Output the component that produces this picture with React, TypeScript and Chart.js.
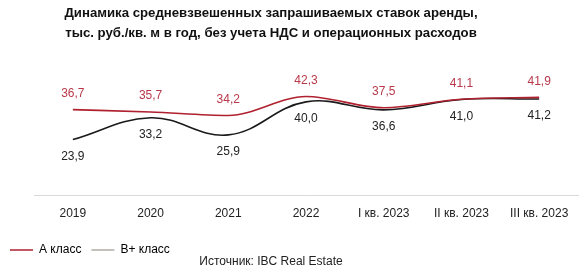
import React, { useEffect, useRef } from "react";
import { Chart, registerables } from "chart.js";

Chart.register(...registerables);

const categories = ["2019", "2020", "2021", "2022", "I кв. 2023", "II кв. 2023", "III кв. 2023"];
const classA = [36.7, 35.7, 34.2, 42.3, 37.5, 41.1, 41.9];
const classBPlus = [23.9, 33.2, 25.9, 40.0, 36.6, 41.0, 41.2];
const seriesNames = ["А класс", "В+ класс"];
const titleLines = [
  "Динамика средневзвешенных запрашиваемых ставок аренды,",
  "тыс. руб./кв. м в год, без учета НДС и операционных расходов",
];
const sourceText = "Источник: IBC Real Estate";

const RED = "#B0202E";
const RED_LABEL = "#B8394A";
const BLACK = "#1a1a1a";
const LEGEND_GRAY = "#b0aca4";
const FONT = "'Liberation Sans', Arial, sans-serif";

const fmt = (v: number) => v.toFixed(1).replace(".", ",");

const extrasPlugin = {
  id: "extras",
  afterDatasetsDraw(chart: any) {
    const ctx = chart.ctx;
    ctx.save();
    ctx.font = `12px ${FONT}`;
    ctx.textAlign = "center";
    ctx.textBaseline = "middle";
    chart.data.datasets.forEach((ds: any, i: number) => {
      const meta = chart.getDatasetMeta(i);
      meta.data.forEach((pt: any, j: number) => {
        const v = ds.data[j];
        ctx.fillStyle = i === 0 ? RED_LABEL : "#222";
        const dy = i === 0 ? -16 : 17;
        ctx.fillText(fmt(v), pt.x, pt.y + dy);
      });
    });
    const cx = 271;
    ctx.fillStyle = "#111";
    ctx.font = `bold 13.2px ${FONT}`;
    ctx.fillText(titleLines[0], cx, 13);
    ctx.fillText(titleLines[1], cx, 33);
    ctx.font = `12px ${FONT}`;
    ctx.fillStyle = "#222";
    ctx.fillText(sourceText, cx, 262);
    ctx.restore();
  },
};

export default function App() {
  const ref = useRef<HTMLCanvasElement | null>(null);
  useEffect(() => {
    if (!ref.current) return;
    const chart = new Chart(ref.current, {
      type: "line",
      data: {
        labels: categories,
        datasets: [
          {
            label: seriesNames[0],
            data: classA,
            borderColor: RED,
            borderWidth: 1.6,
            pointRadius: 0,
            tension: 0.4,
            cubicInterpolationMode: "monotone",
          },
          {
            label: seriesNames[1],
            data: classBPlus,
            borderColor: BLACK,
            borderWidth: 1.6,
            pointRadius: 0,
            tension: 0.4,
          },
        ],
      },
      options: {
        responsive: false,
        animation: false,
        layout: { padding: { top: 55, left: 0, right: 10, bottom: 10 } },
        plugins: {
          title: { display: false },
          tooltip: { enabled: false },
          legend: {
            display: true,
            position: "bottom",
            align: "start",
            labels: {
              boxWidth: 23,
              boxHeight: 1.5,
              padding: 10,
              color: "#222",
              font: { family: FONT, size: 12 },
              generateLabels: () => [
                { text: seriesNames[0], fillStyle: RED, strokeStyle: RED, lineWidth: 0, datasetIndex: 0 },
                { text: seriesNames[1], fillStyle: LEGEND_GRAY, strokeStyle: LEGEND_GRAY, lineWidth: 0, datasetIndex: 1 },
              ],
            },
          },
        },
        scales: {
          x: {
            offset: true,
            grid: { display: false, drawTicks: false },
            border: { display: true, color: "#d9d9d9", width: 1 },
            ticks: { color: "#222", font: { family: FONT, size: 12 }, padding: 11, maxRotation: 0, autoSkip: false },
            afterFit: (scale: any) => {
              scale.height += 2;
            },
          },
          y: {
            display: true,
            min: 0,
            max: 60,
            grid: { display: false, drawTicks: false },
            border: { display: false },
            ticks: { display: false },
            afterFit: (scale: any) => {
              scale.width = 34;
            },
          },
        },
      },
      plugins: [extrasPlugin],
    } as any);
    return () => chart.destroy();
  }, []);
  return (
    <div style={{ position: "absolute", left: 0, top: 0, width: 588, height: 276, background: "#fff" }}>
      <canvas ref={ref} width={588} height={276} style={{ width: 588, height: 276, display: "block" }} />
    </div>
  );
}
